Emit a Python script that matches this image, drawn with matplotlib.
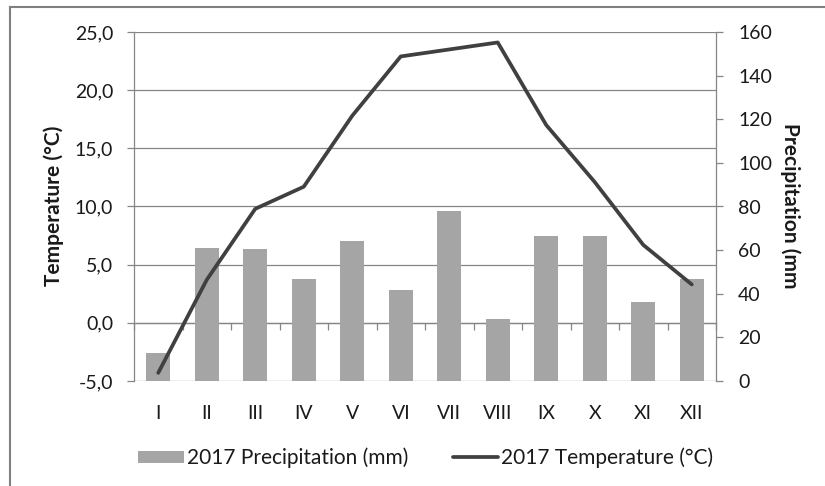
import matplotlib
matplotlib.use('Agg')
import matplotlib.pyplot as plt
from matplotlib.lines import Line2D
from matplotlib.ticker import FuncFormatter

# Monthly data for 2017
months = ['I', 'II', 'III', 'IV', 'V', 'VI', 'VII', 'VIII', 'IX', 'X', 'XI', 'XII']
precipitation = [13.0, 60.8, 60.4, 46.6, 64.3, 41.6, 78.1, 28.3, 66.3, 66.3, 36.2, 46.6]
temperature = [-4.3, 3.7, 9.8, 11.7, 17.8, 22.9, 23.5, 24.1, 17.0, 12.1, 6.7, 3.3]

temp_ticks = [-5, 0, 5, 10, 15, 20, 25]
precip_ticks = [0, 20, 40, 60, 80, 100, 120, 140, 160]

plt.rcParams['font.family'] = ['Lato', 'DejaVu Sans']
plt.rcParams['font.size'] = 14

grid_color = '#868686'
text_color = '#1a1a1a'
bar_color = '#a5a5a5'
line_color = '#404040'

fig = plt.figure(figsize=(8.25, 4.86), dpi=100)
ax = fig.add_axes([134 / 825, 1 - 381 / 486, 582 / 825, 349 / 486])
x = list(range(len(months)))

# Temperature axis: grid and labels
ax.set_xlim(-0.5, len(months) - 0.5)
ax.set_ylim(-5, 25)
ax.set_yticks(temp_ticks)
ax.yaxis.set_major_formatter(FuncFormatter(lambda v, p: f'{v:.1f}'.replace('.', ',')))
ax.grid(axis='y', color=grid_color, linewidth=0.9)
ax.set_xticks(x)
ax.set_xticklabels(months)
ax.tick_params(axis='x', length=0, pad=17, colors=text_color)
ax.tick_params(axis='y', direction='out', length=5, width=0.9, color=grid_color,
               pad=10, labelcolor=text_color)
for side in ['top', 'bottom']:
    ax.spines[side].set_visible(False)
for side in ['left', 'right']:
    ax.spines[side].set_color(grid_color)
    ax.spines[side].set_linewidth(0.9)

# Category axis crossing at 0 degrees
zero_axis = ax.secondary_xaxis(5 / 30)
zero_axis.set_xticks([i - 0.5 for i in range(len(months) + 1)])
zero_axis.tick_params(axis='x', direction='out', length=5, width=0.9,
                      color=grid_color, labelbottom=False)
zero_axis.spines['bottom'].set_color(grid_color)
zero_axis.spines['bottom'].set_linewidth(0.9)

# Precipitation bars on the right axis
ax2 = ax.twinx()
ax2.patch.set_visible(False)
ax2.bar(x, precipitation, width=0.5, color=bar_color, label='2017 Precipitation (mm)')
ax2.set_ylim(0, 160)
ax2.set_yticks(precip_ticks)
ax2.tick_params(axis='y', direction='out', length=5, width=0.9, color=grid_color,
                pad=11, labelcolor=text_color)
for side in ax2.spines:
    ax2.spines[side].set_visible(False)

# Temperature line on top
ax3 = ax.twinx()
ax3.patch.set_visible(False)
ax3.plot(x, temperature, color=line_color, linewidth=2.7, solid_capstyle='round',
         solid_joinstyle='round', label='2017 Temperature (°C)')
ax3.set_ylim(-5, 25)
ax3.axis('off')

# Axis titles
fig.text(54 / 825, 1 - 206 / 486, 'Temperature (°C)', rotation=90, ha='center',
         va='center', fontweight='bold', fontsize=15, color=text_color)
fig.text(790 / 825, 1 - 206 / 486, 'Precipitation (mm', rotation=-90, ha='center',
         va='center', fontweight='bold', fontsize=15, color=text_color)

# Legend
handles = ax2.get_legend_handles_labels()[0] + ax3.get_legend_handles_labels()[0]
labels = ['2017 Precipitation (mm)', '2017 Temperature (°C)']
fig.legend(handles, labels, loc='center', bbox_to_anchor=(426 / 825, 1 - 458 / 486),
           ncol=2, frameon=False, fontsize=15, handlelength=2.2, handleheight=0.55,
           handletextpad=0.15, columnspacing=2.1, labelcolor=text_color)

# Chart border
fig.add_artist(Line2D([9.5 / 825, 1], [1 - 7 / 486, 1 - 7 / 486], color='#7f7f7f', linewidth=1.5))
fig.add_artist(Line2D([9.5 / 825, 9.5 / 825], [0, 1 - 7 / 486], color='#7f7f7f', linewidth=1.5))

plt.savefig('out.png', dpi=100)
